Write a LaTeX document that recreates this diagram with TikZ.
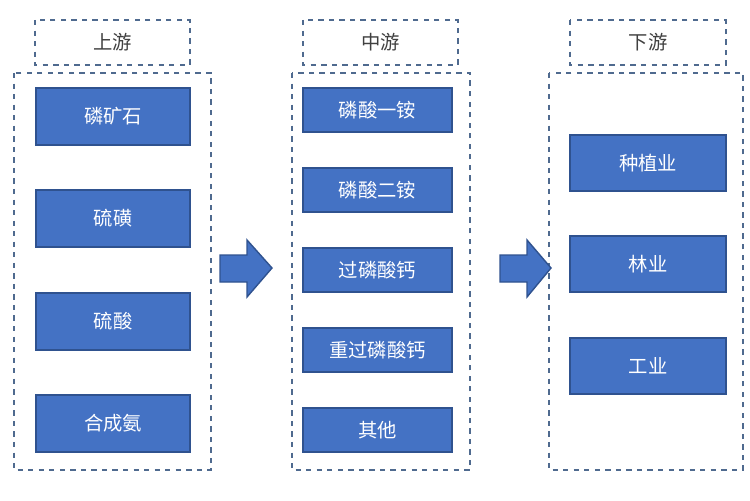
\documentclass[tikz,border=0pt]{standalone}
\usepackage{fontspec}
\newfontfamily\cjk{Noto Sans CJK SC}
\definecolor{boxblue}{HTML}{4472C4}
\definecolor{boxedge}{HTML}{2F528F}
\definecolor{dashgray}{HTML}{4F6A8F}
\tikzset{
  blk/.style={draw=boxedge,fill=boxblue,line width=0.8pt},
  dbox/.style={draw=dashgray,dashed,line width=0.7pt},
  lbl/.style={text=white,font=\cjk\fontsize{11}{13}\selectfont},
  hlbl/.style={text=black!75,font=\cjk\fontsize{11}{13}\selectfont}
}
\begin{document}
\begin{tikzpicture}[x=0.02cm,y=-0.02cm]
\useasboundingbox (0,0) rectangle (750,500);
% headers
\draw[dbox] (35,20) rectangle node[hlbl] (hUp) {上游} (190,65);
\draw[dbox] (303,20) rectangle node[hlbl] (hMid) {中游} (458,65);
\draw[dbox] (570,20) rectangle node[hlbl] (hDown) {下游} (726,65);
% outer frames
\draw[dbox] (14,73) rectangle (211,470);
\draw[dbox] (292,73) rectangle (470,470);
\draw[dbox] (549,73) rectangle (743,470);
% upstream
\foreach \y/\t [count=\i] in {88/磷矿石,190/硫磺,293/硫酸,395/合成氨}
  \draw[blk] (36,\y) rectangle node[lbl] (up\i) {\t} (190,\y+57);
% midstream
\foreach \y/\t [count=\i] in {88/磷酸一铵,168/磷酸二铵,248/过磷酸钙,328/重过磷酸钙,408/其他}
  \draw[blk] (303,\y) rectangle node[lbl] (mid\i) {\t} (452,\y+44);
% downstream
\foreach \y/\t [count=\i] in {135/种植业,236/林业,338/工业}
  \draw[blk] (570,\y) rectangle node[lbl] (down\i) {\t} (726,\y+56);
% flow arrows
\draw[blk] (220,255) -- (247,255) -- (247,240) -- (272,268) -- (247,297) -- (247,282) -- (220,282) -- cycle;
\draw[blk] (500,255) -- (527,255) -- (527,240) -- (551,268) -- (527,297) -- (527,282) -- (500,282) -- cycle;
\end{tikzpicture}
\end{document}
